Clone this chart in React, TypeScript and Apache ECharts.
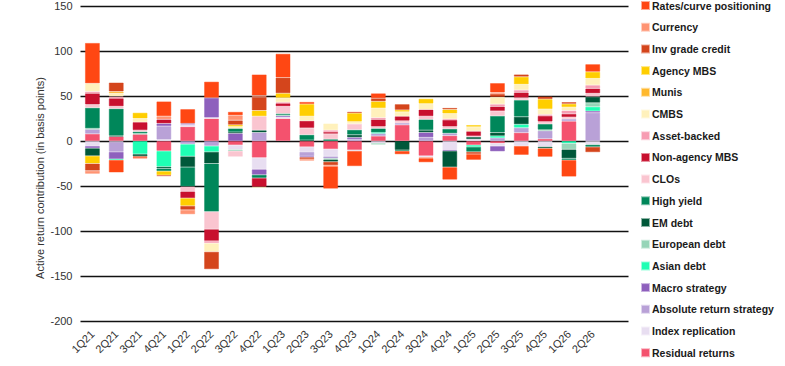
import React, { useEffect, useRef } from "react";
import * as echarts from "echarts";

// Quarters on the category axis
const QUARTERS = [
  "1Q21", "2Q21", "3Q21", "4Q21", "1Q22", "2Q22", "3Q22", "4Q22",
  "1Q23", "2Q23", "3Q23", "4Q23", "1Q24", "2Q24", "3Q24", "4Q24",
  "1Q25", "2Q25", "3Q25", "4Q25", "1Q26", "2Q26",
];

// Y-axis ticks (basis points)
const Y_MIN = -200;
const Y_MAX = 150;
const Y_STEP = 50;

// Active return contribution by source, basis points, one value per quarter
const RATES = [45, -14, -1.5, 16.5, 16, 18, 4, 23.5, 26.5, 2.5, -25, -17, 5.5, -3.8, -4.7, -14, -6.5, 10.5, -10, -9.5, -18.5, 8.5];
const CURRENCY = [-3.5, 0, 0, 3.5, -5, 0, 5.5, 1.5, 0, -2, -1, 0, 0, 0, -1, 0, 0, 1.5, 0, 0, 0, 0];
const INV_GRADE = [-8, 10, -1, -1, -4.5, -19.5, 5, 15, 17.5, -2, -4, 1.5, 3.5, 6.5, 0, 1.8, -2.5, 3.5, 2.6, 3, 2, -6];
const AGENCY_MBS = [-8.5, 0, 6.5, -4.5, -8.5, 0, 2, 6.5, 5, 13.5, 0, 9.5, 7.5, 2, 5.5, 4.5, 2, 0, 8.5, 11, 3.7, 7.4];
const MUNIS = [0, 2, 0, 0, 0, 0, 0, 0, 0, 0, 0, 0, 0, 0, 0, 0, 0, 0, 0, 0, 0, 0];
const CMBS = [9, 3.5, 4, 0, 0, -9.5, 2, -1, 5, 5, 7.5, 2.5, 10.5, 5, 6.5, 6, 5, 8, 6.3, 6, 3.7, 7.4];
const ASSET_BACKED = [2, 2, 0, 0, 0, -2.5, 0, 0, 1, 0, 2, 0, 2, 0, 0, 1, 0, 2.5, 2.6, 1.5, 3.7, 3.7];
const NON_AGENCY_MBS = [12.5, 9, 9, 4.5, -7.5, -13, 0, -10, 3.5, 8, 2, 0, 8, 5, 7.5, 7.5, 5.3, 5, 5.9, 6.5, 3.7, 5.5];
const CLOS = [3.5, 2.5, 1.5, 0, -5.5, -19.5, -6.5, 15.5, 8, 7.5, 6, 6.5, 2, 2.5, 3.5, 2.5, 1, 5.5, 2.6, 2.5, 2, 3.7];
const HIGH_YIELD = [23, 30, 2, -3, -21.5, -53.5, 4, -3.5, 1.5, 6, 2, 5.5, 4.5, -1, 12, 5, -5.5, 18.5, 18.5, 6.5, -1.8, -2.5];
const EM_DEBT = [-8.5, 1, -2.5, -2, -12, -13, 1.5, 2.5, 0, 1, -2.5, 3, 0, -10, 2.5, -18, 2.5, 3.7, 8.5, -1.8, -10, 6.7];
const EUROPEAN_DEBT = [1, 0, 1, 0, 0, 0, -1.5, 0, 1, 0, -1, 0, -1.5, 0, 0, 0, 0, 0, 0, 1, -6.7, 4.4];
const ASIAN_DEBT = [0, -1, -14.5, -17.5, -13.5, -6.5, 0, 0, 0, 0, 0, 0, 1, 0, 0, 0, -2, 2.2, 3.7, 0, -2.6, 4.8];
const MACRO = [-2.5, -8, 0, 3, 1, 22, 8.5, -6, 1.5, -1, 0, 2, 0, 0, 5.5, -1, 0, -6, 0, 0, 0, 1.8];
const ABSOLUTE_RETURN = [5, -11, 0, 15, -3.5, -5.5, 0, 9.5, 0, -5, -2.5, 2, 3, 2, 4, 2.5, 0, 3.5, 5.5, 9, 2.5, 31.5];
const INDEX_REPLICATION = [-5.5, -1, 0, 1.5, 2.5, 1, -5, -13, 1.5, -5.5, -8, -1, -2.5, 0, -1.5, -10, 2, -3, -5.5, -6.3, 0, -4];
const RESIDUAL = [8, 5, 7.5, -11, 16, 25, -4.5, -18.5, 25, -6.5, -9, -10, 5.5, 18, -16.5, 6, -4.5, -2.6, 9.3, 2.5, 22, 0];

// Legend order, top to bottom (stacking runs the other way: last entry sits on zero)
const SOURCES: { name: string; color: string; values: number[] }[] = [
  { name: "Rates/curve positioning", color: "#FF4713", values: RATES },
  { name: "Currency", color: "#FF9473", values: CURRENCY },
  { name: "Inv grade credit", color: "#D4451C", values: INV_GRADE },
  { name: "Agency MBS", color: "#FFCE00", values: AGENCY_MBS },
  { name: "Munis", color: "#FFB92E", values: MUNIS },
  { name: "CMBS", color: "#FFF1BC", values: CMBS },
  { name: "Asset-backed", color: "#F79DB3", values: ASSET_BACKED },
  { name: "Non-agency MBS", color: "#C8102E", values: NON_AGENCY_MBS },
  { name: "CLOs", color: "#FAC5D0", values: CLOS },
  { name: "High yield", color: "#00875A", values: HIGH_YIELD },
  { name: "EM debt", color: "#00583A", values: EM_DEBT },
  { name: "European debt", color: "#97D5B8", values: EUROPEAN_DEBT },
  { name: "Asian debt", color: "#1FFFB4", values: ASIAN_DEBT },
  { name: "Macro strategy", color: "#8E60BD", values: MACRO },
  { name: "Absolute return strategy", color: "#B9A1D7", values: ABSOLUTE_RETURN },
  { name: "Index replication", color: "#E8DEF1", values: INDEX_REPLICATION },
  { name: "Residual returns", color: "#F4526E", values: RESIDUAL },
];

const FONT = "'Liberation Sans', Arial, sans-serif";

function hexAlpha(hex: string, a: number) {
  const n = parseInt(hex.slice(1), 16);
  return `rgba(${(n >> 16) & 255},${(n >> 8) & 255},${n & 255},${a})`;
}

export default function App() {
  const ref = useRef<HTMLDivElement>(null);

  useEffect(() => {
    if (!ref.current) return;
    const chart = echarts.init(ref.current, undefined, { renderer: "svg" });

    const series = [...SOURCES].reverse().map((s) => ({
      name: s.name,
      type: "bar",
      stack: "total",
      barWidth: 15,
      itemStyle: {
        color: s.color,
        borderColor: hexAlpha(s.color, 0.45),
        borderWidth: 1,
      },
      emphasis: { disabled: true },
      data: s.values.map((v) => (v === 0 ? null : v)),
    }));

    chart.setOption({
      animation: false,
      color: SOURCES.map((s) => s.color),
      grid: { left: 80.5, top: 6, width: 548, height: 315, containLabel: false },
      xAxis: {
        type: "category",
        data: QUARTERS,
        max: QUARTERS.length,
        axisLine: { show: false },
        axisTick: { show: false },
        axisLabel: {
          rotate: 45,
          interval: 0,
          margin: 11,
          color: "#333",
          fontSize: 11,
          fontFamily: FONT,
        },
        splitLine: { show: false },
      },
      yAxis: {
        type: "value",
        min: Y_MIN,
        max: Y_MAX,
        interval: Y_STEP,
        axisLine: { show: false },
        axisTick: { show: false },
        axisLabel: { color: "#333", fontSize: 11, fontFamily: FONT, margin: 8 },
        splitLine: { lineStyle: { color: "#111", width: 1.3 } },
      },
      legend: {
        orient: "vertical",
        left: 641,
        top: 0,
        height: 366,
        padding: 0,
        itemWidth: 7,
        itemHeight: 7,
        itemGap: 10.7,
        icon: "rect",
        selectedMode: false,
        data: SOURCES.map((s) => s.name),
        textStyle: {
          color: "#1a1a1a",
          fontSize: 10.5,
          fontWeight: "bold",
          fontFamily: FONT,
          lineHeight: 10,
          padding: [0, 0, 0, -2],
        },
      },
      graphic: [
        {
          type: "text",
          x: 40,
          y: 178,
          rotation: Math.PI / 2,
          style: {
            text: "Active return contribution (in basis points)",
            fill: "#333",
            font: `11px ${FONT}`,
            textAlign: "center",
            textVerticalAlign: "middle",
          },
        },
      ],
      series,
    });

    return () => chart.dispose();
  }, []);

  return (
    <div
      ref={ref}
      style={{ position: "fixed", left: 0, top: 0, width: 785, height: 366, background: "#fff" }}
    />
  );
}
